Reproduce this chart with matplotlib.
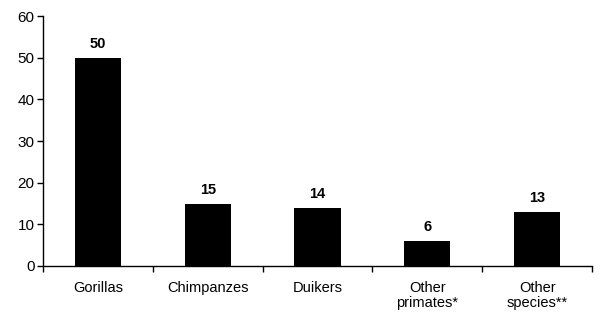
import matplotlib.pyplot as plt
import numpy as np

categories = ['Gorillas', 'Chimpanzes', 'Duikers', 'Other\nprimates*', 'Other\nspecies**']
counts = [50, 15, 14, 6, 13]

plt.rcParams['font.family'] = ['Liberation Sans', 'DejaVu Sans']

fig = plt.figure(figsize=(6, 3.22), dpi=100)
ax = fig.add_axes([0.0717, 0.174, 0.915, 0.776])

x = np.arange(len(categories))
ax.bar(x, counts, width=0.42, color='black')

# value labels above bars
for xi, v in zip(x, counts):
    ax.annotate(str(v), (xi, v), xytext=(0, 5), textcoords='offset points',
                ha='center', va='bottom', fontsize=10.5, fontweight='bold')

ax.set_xlim(-0.5, len(categories) - 0.5)
ax.set_ylim(0, 60)
ax.set_yticks(range(0, 61, 10))

# category labels centred, tick marks on the boundaries
ax.set_xticks(x)
ax.set_xticklabels(categories, fontsize=10.5, linespacing=1.1)
ax.tick_params(axis='x', which='major', length=0, pad=11)
ax.set_xticks(np.arange(len(categories) + 1) - 0.5, minor=True)
ax.tick_params(axis='x', which='minor', length=4, width=1, direction='out')
ax.tick_params(axis='y', length=4, width=1, labelsize=11, pad=2)

for s in ['top', 'right']:
    ax.spines[s].set_visible(False)
for s in ['left', 'bottom']:
    ax.spines[s].set_linewidth(1)

fig.savefig('out.png', dpi=100)
